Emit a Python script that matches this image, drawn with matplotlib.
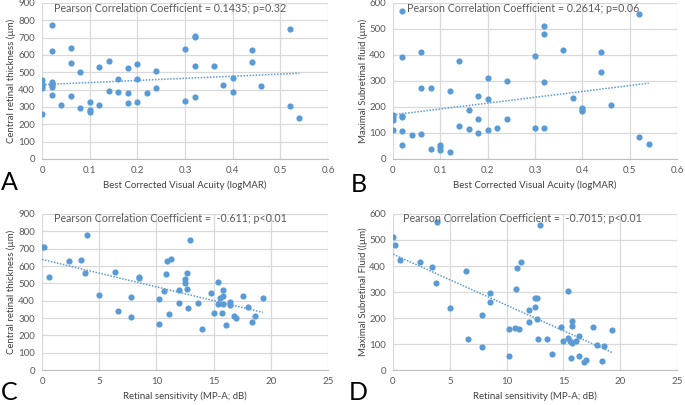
import numpy as np
import matplotlib
matplotlib.use("Agg")
import matplotlib.pyplot as plt

plt.rcParams['font.family'] = ['Lato', 'DejaVu Sans']

# panel A / B : visual acuity (logMAR)
bcva_a = [0, 0, 0, 0, 0,
          0.02, 0.02, 0.02, 0.02, 0.02, 0.02, 0.02,
          0.04, 0.06, 0.06, 0.06, 0.08, 0.08, 0.10, 0.10, 0.10,
          0.12, 0.12, 0.14, 0.14, 0.16, 0.16, 0.18, 0.18, 0.18,
          0.20, 0.20, 0.20, 0.22, 0.24, 0.24, 0.30, 0.30,
          0.32, 0.32, 0.32, 0.32, 0.36, 0.38, 0.40, 0.40,
          0.44, 0.44, 0.46, 0.52, 0.52, 0.54]
crt_a = [455, 430, 420, 410, 260,
         775, 625, 445, 435, 425, 415, 370,
         312, 638, 555, 365, 500, 295, 328, 280, 270,
         530, 310, 565, 390, 460, 385, 525, 378, 322,
         550, 463, 328, 380, 505, 408, 635, 337,
         710, 705, 537, 360, 535, 428, 468, 385,
         628, 558, 420, 750, 303, 237]

bcva_b = [0, 0, 0, 0,
          0.02, 0.02, 0.02, 0.02, 0.02, 0.02,
          0.04, 0.06, 0.06, 0.06, 0.08, 0.08, 0.10, 0.10, 0.10,
          0.12, 0.12, 0.14, 0.14, 0.16, 0.16, 0.18, 0.18, 0.18,
          0.20, 0.20, 0.20, 0.22, 0.24, 0.24, 0.30, 0.30,
          0.32, 0.32, 0.32, 0.32, 0.36, 0.38, 0.40, 0.40, 0.40,
          0.44, 0.44, 0.46, 0.52, 0.52, 0.54]
srf_b = [170, 160, 150, 110,
         568, 392, 165, 162, 108, 52,
         92, 410, 272, 95, 275, 38, 52, 45, 35,
         260, 28, 377, 128, 188, 115, 242, 155, 100,
         310, 230, 110, 120, 300, 155, 397, 118,
         510, 480, 295, 118, 420, 236, 195, 190, 183,
         410, 335, 207, 558, 85, 58]

# panel C / D : retinal sensitivity (dB)
sens_c = [0, 0.2, 0.6, 2.4, 3.4, 3.8, 3.9, 5.0, 6.4, 6.6, 7.8, 7.8, 8.5, 8.5,
          10.2, 10.2, 10.7, 10.8, 10.9, 11.1, 11.3, 12.0, 12.0, 12.5, 12.5,
          12.7, 12.7, 12.8, 12.9, 13.6, 14.0, 14.8, 15.0, 15.4, 15.4, 15.6,
          15.7, 15.8, 15.8, 15.8, 16.1, 16.4, 16.4, 16.8, 17.0, 17.6, 18.0,
          18.4, 18.6, 19.3]
crt_c = [712, 707, 535, 630, 635, 558, 777, 430, 568, 338, 420, 305, 538, 528,
         410, 265, 455, 553, 627, 322, 638, 463, 385, 523, 502,
         557, 468, 360, 752, 385, 235, 442, 328, 505, 382, 415,
         328, 460, 428, 380, 260, 390, 375, 312, 298, 425, 365,
         278, 313, 415]

sens_d = [0, 0.2, 0.6, 2.4, 3.4, 3.8, 3.9, 5.0, 6.4, 6.6, 7.8, 7.8, 8.5, 8.5,
          10.2, 10.2, 10.7, 10.8, 10.9, 11.1, 11.3, 12.0, 12.0, 12.5, 12.5,
          12.7, 12.7, 12.8, 12.9, 13.6, 14.0, 14.8, 15.0, 15.4, 15.4, 15.6,
          15.7, 15.8, 15.8, 15.8, 16.1, 16.4, 16.4, 16.8, 17.0, 17.6, 18.0,
          18.4, 18.6, 19.3]
srf_d = [513, 482, 424, 414, 398, 335, 569, 238, 379, 118, 210, 87, 296, 262,
         157, 54, 162, 311, 393, 157, 414, 231, 185, 276, 243,
         276, 197, 118, 559, 118, 60, 166, 112, 302, 122, 113,
         45, 189, 170, 103, 112, 129, 54, 30, 40, 167, 95,
         33, 91, 152]

titles = ["Pearson Correlation Coefficient = 0.1435; p=0.32",
          "Pearson Correlation Coefficient = 0.2614; p=0.06",
          "Pearson Correlation Coefficient =  -0.611; p<0.01",
          "Pearson Correlation Coefficient =  -0.7015; p<0.01"]
ylabels = ["Central retinal thickness (µm)", "Maximal Subretinal fluid (µm)",
           "Central retinal thickness (µm)", "Maximal Subretinal Fluid ((µm)"]
xlabels = ["Best Corrected Visual Acuity (logMAR)", "Best Corrected Visual Acuity (logMAR)",
           "Retinal sensitivity (MP-A; dB)", "Retinal sensitivity (MP-A; dB)"]
letters = ["A", "B", "C", "D"]

W, H = 685, 405
blue = "#5B9BD5"
grid = "#D9D9D9"
tick_col = "#595959"

fig = plt.figure(figsize=(W / 100, H / 100), dpi=100)

# plot area boxes in pixels: left, top, right, bottom
boxes = [(42, 3, 328, 159), (393, 3, 677, 159),
         (42, 214, 328, 370), (393, 214, 677, 370)]
panels = [(bcva_a, crt_a, 0.6, 0.1, 900), (bcva_b, srf_b, 0.6, 0.1, 600),
          (sens_c, crt_c, 25, 5, 900), (sens_d, srf_d, 25, 5, 600)]
title_x = [54, 407, 54, 403]
ylab_x = [11, 363, 11, 363]
letter_pos = [(1, 183), (351, 185), (1, 392), (349, 392)]

for i, (box, (xs, ys, xmax, xstep, ymax)) in enumerate(zip(boxes, panels)):
    l, t, r, b = box
    ax = fig.add_axes([l / W, 1 - b / H, (r - l) / W, (b - t) / H])
    ax.set_xlim(0, xmax)
    ax.set_ylim(0, ymax)
    ax.set_xticks(np.arange(0, xmax + xstep / 2, xstep))
    ax.set_yticks(np.arange(0, ymax + 1, 100))
    if xmax < 1:
        ax.set_xticklabels([("%g" % v) for v in np.arange(0, xmax + xstep / 2, xstep)])
    ax.grid(True, color=grid, linewidth=0.9)
    ax.set_axisbelow(True)
    for s in ["top", "right", "left"]:
        ax.spines[s].set_visible(False)
    ax.spines["bottom"].set_color("#BFBFBF")
    ax.tick_params(length=0, labelsize=7, colors=tick_col, pad=5)

    ax.scatter(xs, ys, s=20, color=blue, zorder=3, linewidths=0)
    k, c = np.polyfit(xs, ys, 1)
    xx = np.array([min(xs), max(xs)])
    ax.plot(xx, k * xx + c, linestyle=(0, (1, 1)), color=blue, linewidth=1.1, zorder=2)

    fig.text(title_x[i] / W, 1 - (t + 5) / H, titles[i], fontsize=7.7,
             color="#595959", ha="left", va="center")
    fig.text(ylab_x[i] / W, 1 - (t + b) / 2 / H, ylabels[i], fontsize=6.9,
             color="#404040", rotation=90, ha="center", va="center")
    fig.text((l + r) / 2 / W, 1 - (b + 26) / H, xlabels[i], fontsize=6.9,
             color="#404040", ha="center", va="center")
    fig.text(letter_pos[i][0] / W, 1 - letter_pos[i][1] / H, letters[i],
             fontsize=18, color="black", ha="left", va="center")

fig.savefig("out.png", dpi=100)
